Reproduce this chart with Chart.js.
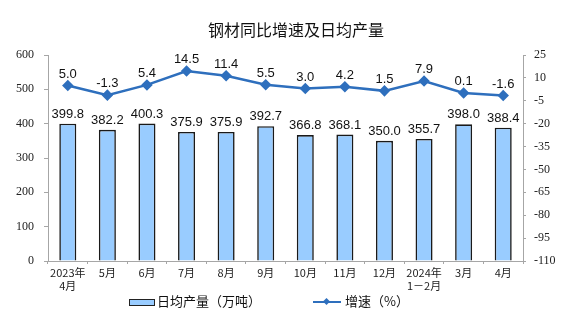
<!DOCTYPE html>
<html lang="zh">
<head>
<meta charset="UTF-8">
<title>钢材同比增速及日均产量</title>
<style>
  body { margin: 0; background: #fff; }
  .wrap { position: relative; width: 576px; height: 313px; }
  canvas { position: absolute; left: 0; top: 0; }
  .title { position: absolute; left: 0; width: 592px; top: 17px; text-align: center;
    font: 16px "Noto Sans CJK SC", sans-serif; color: #111; }
  .legend { position: absolute; top: 291px; font: 13px "Noto Sans CJK SC", sans-serif; color: #111; }
  .barKey { display: inline-block; width: 24px; height: 5px; background: #99ccff; border: 1.5px solid #222;
    vertical-align: middle; margin-right: 2px; }
  .lineKey { display: inline-block; position: relative; width: 28px; height: 2px; background: #2e6fbd;
    vertical-align: middle; margin-right: 4px; }
  .lineKey i { position: absolute; left: 11px; top: -2.5px; width: 5px; height: 5px; background: #2e6fbd; transform: rotate(45deg); }
</style>
</head>
<body>
<div class="wrap">
  <canvas id="chart" width="576" height="313"></canvas>
  <div class="title">钢材同比增速及日均产量</div>
  <div class="legend" style="left:129px"><span class="barKey"></span>日均产量（万吨）</div>
  <div class="legend" style="left:313px"><span class="lineKey"><i></i></span>增速（%）</div>
</div>
<script src="https://cdn.jsdelivr.net/npm/chart.js"></script>
<script>
const months = [["2023年", "4月"], "5月", "6月", "7月", "8月", "9月", "10月", "11月", "12月", ["2024年", "1－2月"], "3月", "4月"];
const dailyOutput = [399.8, 382.2, 400.3, 375.9, 375.9, 392.7, 366.8, 368.1, 350.0, 355.7, 398.0, 388.4];
const growth = [5.0, -1.3, 5.4, 14.5, 11.4, 5.5, 3.0, 4.2, 1.5, 7.9, 0.1, -1.6];

// draws the numbers above bars and points
const valueLabels = {
    id: 'valueLabels',
    afterDatasetsDraw(chart) {
        const ctx = chart.ctx;
        ctx.save();
        ctx.font = '13px Arial, "Liberation Sans", sans-serif';
        ctx.fillStyle = '#111';
        ctx.textAlign = 'center';
        ctx.textBaseline = 'bottom';
        chart.data.datasets.forEach((ds, i) => {
            const meta = chart.getDatasetMeta(i);
            meta.data.forEach((el, j) => {
                const off = ds.type === 'line' ? 5 : 3;
                ctx.fillText(ds.data[j].toFixed(1), el.x, el.y - off);
            });
        });
        ctx.restore();
    }
};

const axisGray = '#a6a6a6';
const serifTicks = { family: 'Liberation Serif', size: 12 };

new Chart(document.getElementById('chart'), {
    data: {
        labels: months,
        datasets: [
            {
                type: 'line',
                label: '增速（%）',
                data: growth,
                yAxisID: 'yRight',
                borderColor: '#2e6fbd',
                backgroundColor: '#2e6fbd',
                borderWidth: 2.5,
                pointStyle: 'rectRot',
                pointRadius: 4,
                order: 0
            },
            {
                type: 'bar',
                label: '日均产量（万吨）',
                data: dailyOutput,
                yAxisID: 'yLeft',
                backgroundColor: '#99ccff',
                borderColor: '#1a1a1a',
                borderWidth: 1.6,
                barPercentage: 0.43,
                categoryPercentage: 1,
                order: 1
            }
        ]
    },
    options: {
        responsive: false,
        animation: false,
        layout: { padding: { top: 55, left: 0, right: 0, bottom: 0 } },
        plugins: { legend: { display: false }, tooltip: { enabled: false } },
        scales: {
            x: {
                offset: true,
                grid: { display: true, drawOnChartArea: false, offset: true, color: axisGray, tickLength: 3 },
                border: { color: axisGray },
                ticks: { color: '#222', font: { family: '"Noto Sans CJK SC", sans-serif', size: 11 }, padding: 2, maxRotation: 0, autoSkip: false },
                afterFit(s) { s.height = 52; }
            },
            yLeft: {
                position: 'left',
                min: 0, max: 600,
                ticks: { stepSize: 100, color: '#222', font: serifTicks, padding: 10 },
                grid: { drawOnChartArea: false, color: axisGray, tickLength: 4 },
                border: { color: axisGray },
                afterFit(s) { s.width = 48; }
            },
            yRight: {
                position: 'right',
                min: -110, max: 25,
                ticks: { stepSize: 15, color: '#222', font: serifTicks, padding: 8 },
                grid: { drawOnChartArea: false, color: axisGray, tickLength: 3 },
                border: { color: axisGray },
                afterFit(s) { s.width = 53; }
            }
        }
    },
    plugins: [valueLabels]
});
</script>
</body>
</html>
